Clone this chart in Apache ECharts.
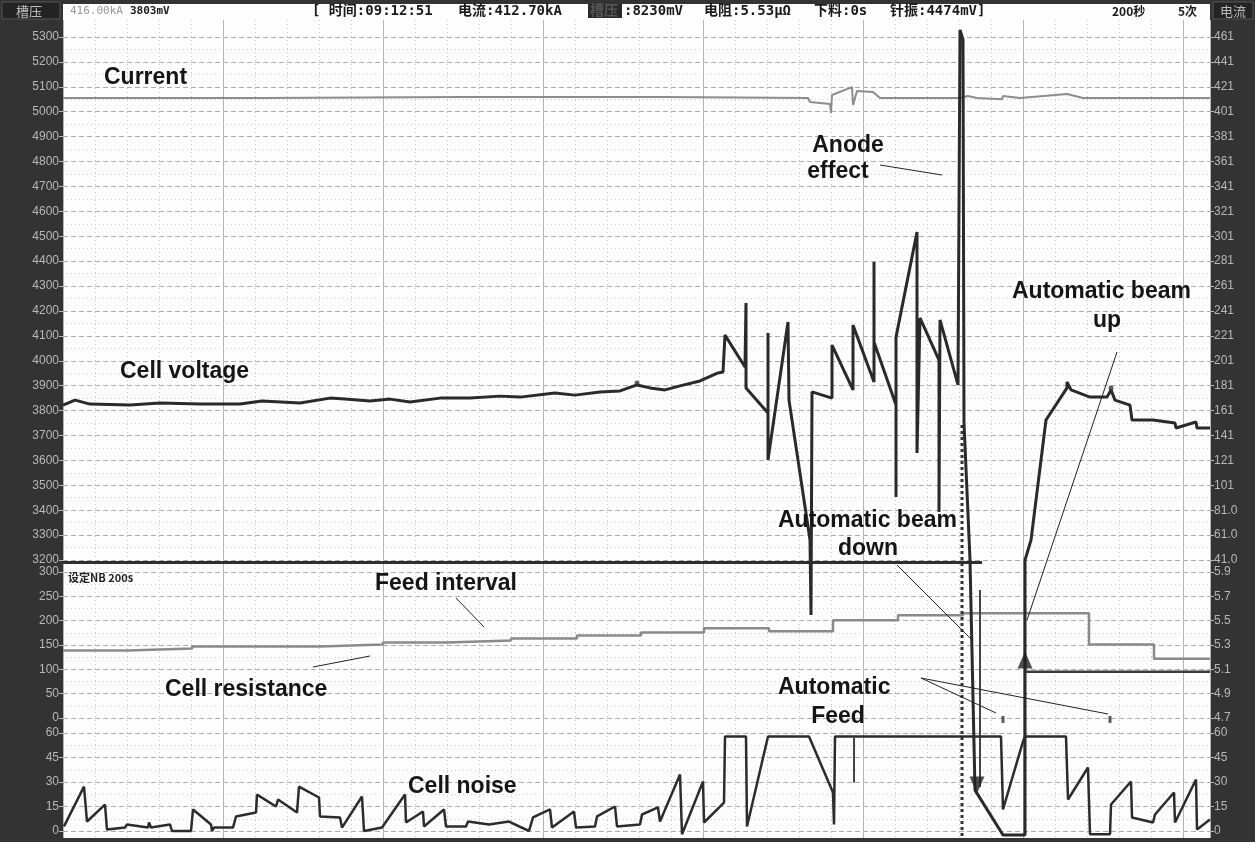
<!DOCTYPE html>
<html>
<head>
<meta charset="utf-8">
<script src="https://cdn.jsdelivr.net/npm/echarts@6/dist/echarts.min.js"></script>
<style>
  html, body { margin: 0; padding: 0; background: #333; }
  #chart { width: 1255px; height: 842px; }
</style>
</head>
<body>
<div id="chart"></div>
<script>
// time axis in seconds across the screen
const timeRange = [0, 1147];

// axis ranges [min, max, step]
const voltageAxis = [3200, 5300, 100];     // mV, upper left
const currentAxis = [41, 461, 20];         // kA, upper right
const intervalAxis = [0, 300, 50];         // s, middle left
const resistAxis = [4.7, 5.9, 0.2];        // μΩ, middle right
const noiseAxis = [0, 60, 15];             // mV, bottom

// status line pieces [text, x]
const statusParts = [
  ['[ 时间:09:12:51', 312], ['电流:412.70kA', 458], [':8230mV', 624],
  ['电阻:5.53μΩ', 704], ['下料:0s', 814], ['针振:4474mV]', 890]
];

// cell voltage trace [t, mV]
const cellVoltage = [
  [0, 3822], [12, 3842], [27, 3826], [67, 3822], [97, 3830], [137, 3826], [177, 3826],
  [199, 3838], [237, 3830], [267, 3850], [282, 3846], [307, 3838], [327, 3846], [347, 3834],
  [377, 3850], [407, 3850], [437, 3858], [457, 3854], [492, 3871], [512, 3862], [537, 3875],
  [557, 3879], [574, 3903], [587, 3891], [602, 3883], [617, 3899], [637, 3919], [655, 3951],
  [660, 3955], [662, 4103], [682, 3975], [683, 4232], [683, 3891], [705, 3790], [705, 4111],
  [705, 3602], [725, 4156], [726, 3842], [747, 3280], [748, 2979], [749, 3875], [769, 3850],
  [769, 4063], [790, 3883], [790, 4144], [811, 3915], [811, 4397], [811, 4075], [833, 3822],
  [833, 3453], [833, 4095], [854, 4517], [854, 3630], [857, 4172], [876, 4003], [876, 3393],
  [877, 4164], [895, 3903], [897, 5328], [900, 5290], [901, 3750], [907, 3200], [912, 2276],
  [940, 2096], [962, 2096], [962, 3200], [968, 3280], [983, 3762], [1004, 3891], [1004, 3915],
  [1008, 3883], [1027, 3854], [1044, 3854], [1048, 3883], [1052, 3842], [1067, 3822],
  [1069, 3762], [1090, 3762], [1112, 3750], [1113, 3730], [1133, 3754], [1134, 3730], [1147, 3730]
];
// small dots sitting on the voltage trace [t, mV]
const voltageDots = [[574, 3911], [1048, 3891]];

// line current [t, kA]
const lineCurrent = [
  [0, 412.0], [200, 412.0], [400, 412.8], [600, 412.8], [745, 412.0], [747, 408.8],
  [767, 407.2], [768, 400.0], [769, 414.4], [789, 420.8], [790, 406.4], [794, 417.6],
  [810, 416.8], [817, 412.0], [897, 412.0], [905, 413.6], [914, 412.0], [939, 411.1],
  [940, 413.6], [957, 412.0], [1004, 415.2], [1020, 412.0], [1147, 412.0]
];

// thick reference line along the bottom of the voltage panel
const voltageBase = [[0, 3190], [919, 3190]];
// dotted cursor at the anode effect
const cursorLine = [[899, 3742], [899, 2084]];
// second beam trace next to the beam-down arrow
const beamTrace = [[917, 3080], [917, 2289]];
// beam movement arrowheads [t, mV, rotation]
const beamArrows = [[914, 2297, 180], [962, 2798, 0]];

// cell resistance, step line [t, μΩ]
const cellResistance = [
  [0, 5.255], [65, 5.271], [129, 5.288], [257, 5.304], [320, 5.321], [384, 5.337],
  [448, 5.354], [514, 5.379], [578, 5.403], [641, 5.437], [706, 5.412], [770, 5.503],
  [835, 5.544], [900, 5.561], [1026, 5.304], [1091, 5.188], [1147, 5.188]
];
// feed interval [t, s]
const feedInterval = [[962, 95], [1147, 95]];
// automatic feed marks [t, s]
const feedMarks = [[940, -3], [1047, -3]];

// cell noise [t, mV]
const cellNoise = [
  [1, 2.8], [21, 27.2], [24, 5.8], [42, 16.2], [44, 0.9], [62, 2.1], [64, 4.0], [85, 2.1],
  [86, 5.2], [88, 2.1], [107, 4.0], [109, 0], [128, 0], [130, 13.2], [148, 4.0], [149, 0],
  [151, 2.1], [170, 2.1], [173, 8.9], [193, 11.3], [194, 22.3], [213, 15.0], [215, 19.3],
  [234, 11.3], [236, 27.2], [256, 20.5], [257, 8.9], [277, 8.3], [279, 2.1], [299, 21.1],
  [301, 0], [319, 2.1], [342, 22.3], [343, 5.2], [360, 11.9], [361, 2.8], [381, 13.2],
  [383, 2.8], [403, 2.8], [405, 5.8], [426, 4.0], [446, 5.8], [466, 0], [470, 8.3],
  [487, 13.2], [489, 2.1], [511, 11.9], [513, 2.1], [532, 2.8], [534, 8.9], [552, 15.0],
  [554, 2.8], [577, 4.0], [579, 10.1], [595, 14.4], [597, 5.8], [617, 34.6], [619, -2],
  [640, 30.3], [641, 5.2], [661, 17.4], [662, 57.9], [683, 57.9], [684, 2.8], [705, 57.9],
  [746, 57.9], [770, 23.6], [771, 4.0], [772, 57.9], [938, 57.9], [940, 13.2], [960, 54.8],
  [962, 57.9], [1003, 57.9], [1005, 19.3], [1025, 38.9], [1027, -2], [1047, -2], [1048, 16.2],
  [1068, 30.3], [1069, 8.3], [1090, 5.2], [1092, 10.1], [1111, 23.6], [1112, 5.2],
  [1133, 31.5], [1134, 0.9], [1147, 7]
];
const noiseTick = [[791, 57.3], [791, 29.7]];

const chart = echarts.init(document.getElementById('chart'));

const labelStyle = { color: '#b8b8b8', fontSize: 12, fontFamily: 'Liberation Sans' };
const tickStyle = { show: true, length: 4, lineStyle: { color: '#b8b8b8' } };
const mainSplit = { show: true, lineStyle: { color: '#acacac', type: [5, 3], width: 1 } };
const minorSplit = { show: true, lineStyle: { color: '#cdcdcd', type: [1, 3], width: 1 } };

function sideAxis(grid, range, side, fmt, withGrid) {
  return {
    type: 'value', gridIndex: grid, position: side,
    min: range[0], max: range[1], interval: range[2],
    axisLine: { show: false },
    axisTick: tickStyle,
    axisLabel: Object.assign({ margin: 4, formatter: fmt }, labelStyle),
    splitLine: withGrid ? mainSplit : { show: false },
    minorTick: { show: false, splitNumber: 2 },
    minorSplitLine: withGrid ? minorSplit : { show: false }
  };
}

function hiddenX(grid) {
  return { type: 'value', gridIndex: grid, min: timeRange[0], max: timeRange[1], show: false };
}

const annFont = 'bold 23px "Liberation Sans", Arial, sans-serif';
function note(text, x, y, align) {
  return {
    type: 'text', z: 100,
    style: { text: text, x: x, y: y, fill: '#151515', font: annFont,
      align: align || 'left', verticalAlign: 'middle', textAlign: align || 'left', textVerticalAlign: 'middle' }
  };
}
function pointer(x1, y1, x2, y2) {
  return { type: 'line', z: 100, shape: { x1: x1, y1: y1, x2: x2, y2: y2 },
    style: { stroke: '#222', lineWidth: 1 } };
}
function headText(text, x, font, fill) {
  return { type: 'text', z: 51, style: { text: text, x: x, y: 11, fill: fill || '#1a1a1a', font: font,
    verticalAlign: 'middle', textVerticalAlign: 'middle' } };
}

const hdrFont = 'bold 14px "DejaVu Sans Mono", "Noto Sans CJK SC", monospace';
const cjkFont = '13px "Noto Sans CJK SC"';

chart.setOption({
  backgroundColor: '#333333',
  animation: false,
  grid: [
    { left: 63, right: 45, top: 20, bottom: 4, show: true, backgroundColor: '#fdfdfd', borderWidth: 0 },
    { left: 63, right: 45, top: 37, height: 523 },
    { left: 63, right: 45, top: 572, height: 146 },
    { left: 63, right: 45, top: 733, height: 98 }
  ],
  xAxis: [
    { type: 'value', gridIndex: 0, min: timeRange[0], max: timeRange[1], interval: 32,
      axisLine: { show: false }, axisTick: { show: false }, axisLabel: { show: false },
      splitLine: { show: true, lineStyle: { color: '#c6c6c6', type: [1, 3] } } },
    { type: 'value', gridIndex: 0, position: 'top', min: timeRange[0], max: timeRange[1], interval: 160,
      axisLine: { show: false }, axisTick: { show: false }, axisLabel: { show: false },
      splitLine: { show: true, lineStyle: { color: '#b4b4b4', width: 1 } } },
    hiddenX(1), hiddenX(2), hiddenX(3)
  ],
  yAxis: [
    { type: 'value', gridIndex: 0, min: 0, max: 1, show: false },
    sideAxis(1, voltageAxis, 'left', v => String(v), true),
    sideAxis(1, currentAxis, 'right', v => v < 100 ? v.toFixed(1) : String(Math.round(v)), false),
    sideAxis(2, intervalAxis, 'left', v => String(Math.round(v)), true),
    sideAxis(2, resistAxis, 'right', v => v.toFixed(1), false),
    sideAxis(3, noiseAxis, 'left', v => String(Math.round(v)), true),
    sideAxis(3, noiseAxis, 'right', v => String(Math.round(v)), false)
  ],
  series: [
    { name: 'Current', type: 'line', xAxisIndex: 2, yAxisIndex: 2, data: lineCurrent,
      showSymbol: false, lineStyle: { color: '#8c8c8c', width: 2 }, z: 3 },
    { name: 'Base', type: 'line', xAxisIndex: 2, yAxisIndex: 1, data: voltageBase, clip: false,
      showSymbol: false, lineStyle: { color: '#303030', width: 3 }, z: 4 },
    { name: 'Cell voltage', type: 'line', xAxisIndex: 2, yAxisIndex: 1, data: cellVoltage, clip: false,
      showSymbol: false, lineStyle: { color: '#2a2a2a', width: 3 }, z: 5 },
    { name: 'Voltage dots', type: 'scatter', xAxisIndex: 2, yAxisIndex: 1, data: voltageDots,
      symbol: 'circle', symbolSize: 5, itemStyle: { color: '#333' }, z: 6 },
    { name: 'Cursor', type: 'line', xAxisIndex: 2, yAxisIndex: 1, data: cursorLine, clip: false,
      showSymbol: false, lineStyle: { color: '#333', width: 3, type: [3, 3] }, z: 4 },
    { name: 'Beam', type: 'line', xAxisIndex: 2, yAxisIndex: 1, data: beamTrace, clip: false,
      showSymbol: false, lineStyle: { color: '#444', width: 2 }, z: 4 },
    { name: 'Beam arrows', type: 'scatter', xAxisIndex: 2, yAxisIndex: 1, clip: false,
      data: beamArrows.map(d => ({ value: [d[0], d[1]], symbolRotate: d[2] })),
      symbol: 'triangle', symbolSize: [15, 17], itemStyle: { color: '#222' }, z: 6 },
    { name: 'Cell resistance', type: 'line', xAxisIndex: 3, yAxisIndex: 4, data: cellResistance,
      step: 'end', showSymbol: false, lineStyle: { color: '#8a8a8a', width: 2.5 }, z: 3 },
    { name: 'Feed interval', type: 'line', xAxisIndex: 3, yAxisIndex: 3, data: feedInterval,
      showSymbol: false, lineStyle: { color: '#3c3c3c', width: 2.5 }, z: 3 },
    { name: 'Feed', type: 'scatter', xAxisIndex: 3, yAxisIndex: 3, data: feedMarks, clip: false,
      symbol: 'rect', symbolSize: [3, 7], itemStyle: { color: '#333' }, z: 6 },
    { name: 'Cell noise', type: 'line', xAxisIndex: 4, yAxisIndex: 5, data: cellNoise, clip: false,
      showSymbol: false, lineStyle: { color: '#2c2c2c', width: 2.5 }, z: 5 },
    { name: 'Noise tick', type: 'line', xAxisIndex: 4, yAxisIndex: 5, data: noiseTick,
      showSymbol: false, lineStyle: { color: '#444', width: 2 }, z: 5 }
  ],
  graphic: [
    // header strip
    { type: 'rect', z: 50, shape: { x: 63, y: 4, width: 1147, height: 16 }, style: { fill: '#fdfdfd' } },
    { type: 'rect', z: 50, shape: { x: 2, y: 2, width: 58, height: 17 }, style: { fill: '#242424', stroke: '#555' } },
    headText('槽压', 16, cjkFont, '#bbbbbb'),
    { type: 'rect', z: 50, shape: { x: 1213, y: 2, width: 40, height: 17 }, style: { fill: '#242424', stroke: '#555' } },
    headText('电流', 1220, cjkFont, '#bbbbbb'),
    headText('416.00kA', 70, '11px "DejaVu Sans Mono"', '#9a9a9a'),
    headText('3803mV', 130, 'bold 11px "DejaVu Sans Mono"'),
    ...statusParts.map(p => headText(p[0], p[1], hdrFont)),
    { type: 'rect', z: 50, shape: { x: 588, y: 4, width: 34, height: 14 }, style: { fill: '#2a2a2a' } },
    headText('槽压', 590, hdrFont, '#555'),
    headText('200秒', 1112, 'bold 12px "Noto Sans CJK SC"'),
    headText('5次', 1178, 'bold 12px "Noto Sans CJK SC"'),
    { type: 'text', z: 51, style: { text: '设定NB 200s', x: 68, y: 578, fill: '#222',
      font: 'bold 11px "Noto Sans CJK SC"', verticalAlign: 'middle', textVerticalAlign: 'middle' } },

    // annotations
    note('Current', 104, 78),
    note('Cell voltage', 120, 372),
    note('Anode', 848, 146, 'center'),
    note('effect', 838, 172, 'center'),
    pointer(880, 165, 942, 175),
    note('Automatic beam', 1012, 292),
    note('up', 1107, 321, 'center'),
    pointer(1117, 352, 1027, 620),
    note('Automatic beam', 778, 521),
    note('down', 868, 549, 'center'),
    pointer(897, 565, 972, 640),
    note('Feed interval', 375, 584),
    pointer(456, 598, 484, 627),
    note('Cell resistance', 165, 690),
    pointer(313, 667, 370, 656),
    note('Automatic', 778, 688),
    note('Feed', 838, 717, 'center'),
    pointer(921, 678, 996, 713),
    pointer(921, 678, 1108, 714),
    note('Cell noise', 408, 787)
  ]
});
</script>
</body>
</html>
